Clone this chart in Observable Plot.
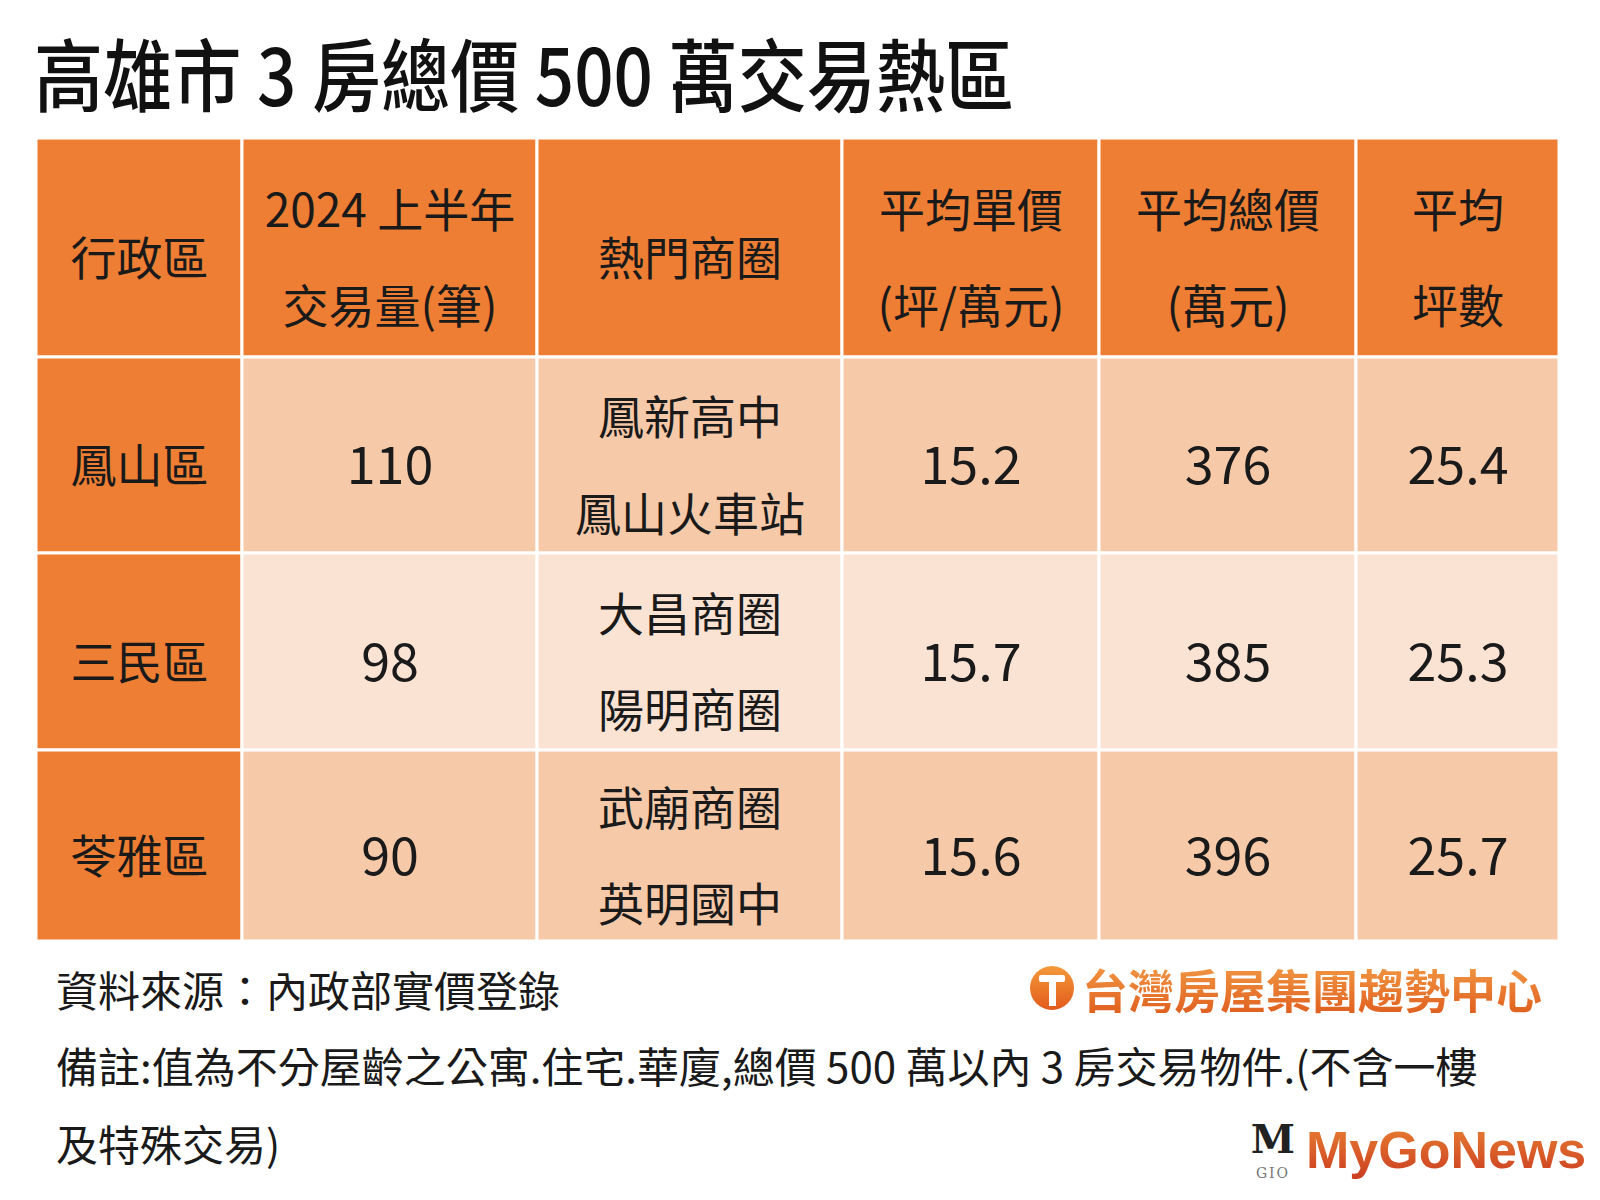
<!DOCTYPE html>
<html>
<head>
<meta charset="utf-8">
<script src="https://cdn.jsdelivr.net/npm/d3@7"></script>
<script src="https://cdn.jsdelivr.net/npm/@observablehq/plot@0.6"></script>
<style>
  html, body { margin: 0; padding: 0; background: #ffffff; }
  body { width: 1600px; height: 1200px; position: relative; overflow: hidden;
         font-family: "Noto Sans CJK TC", "Noto Sans", sans-serif; color: #1a1a1a; }
  #title { height: 138px; box-sizing: border-box; padding-top: 32px; padding-left: 34px; white-space: nowrap; }
  #title span { display: inline-block; transform: scaleX(0.875); transform-origin: left center;
                font-size: 79px; line-height: 79px; font-weight: 500; color: #111; }
  #chart svg { display: block; }
  .foot { position: absolute; left: 56px; font-size: 42px; line-height: 42px; white-space: nowrap; color: #1a1a1a; }
  #brand { position: absolute; left: 1030px; top: 962px; height: 52px; display: flex; align-items: center; white-space: nowrap; }
  #brand .ico { width: 44px; height: 44px; border-radius: 50%; background: linear-gradient(#f39a3a, #e25a1c);
                position: relative; margin-right: 8px; }
  #brand .ico::before { content: ""; position: absolute; left: 9px; top: 9px; width: 26px; height: 7px; background: #fff; border-radius: 2px; }
  #brand .ico::after { content: ""; position: absolute; left: 19px; top: 14px; width: 7px; height: 26px; background: #fff; }
  #brand .txt { font-size: 46px; font-weight: 700; line-height: 52px; color: #ee7a25;
                background: linear-gradient(#f29a45, #e0601f); -webkit-background-clip: text; background-clip: text; -webkit-text-fill-color: transparent; }
  #mgn { position: absolute; left: 1250px; top: 1112px; height: 76px; display: flex; align-items: center; white-space: nowrap; }
  #mgn .m { width: 46px; height: 70px; position: relative; margin-right: 10px; font-family: "DejaVu Serif", serif; }
  #mgn .m .big { position: absolute; left: 0; top: 2px; width: 46px; text-align: center; font-size: 40px; line-height: 44px; font-weight: 700; color: #222; }
  #mgn .m .small { position: absolute; left: 0; top: 50px; width: 46px; text-align: center; font-size: 14px; line-height: 16px; color: #777; letter-spacing: 2px; }
  #mgn .txt { font-family: "Liberation Sans", Arial, sans-serif; font-size: 52px; font-weight: 700; line-height: 70px;
              background: linear-gradient(#ec8a34, #c8351f); -webkit-background-clip: text; background-clip: text; -webkit-text-fill-color: transparent; }
</style>
</head>
<body>
<div id="title"><span>高雄市 3 房總價 500 萬交易熱區</span></div>
<div id="chart"></div>
<div class="foot" style="top:968px">資料來源：內政部實價登錄</div>
<div class="foot" style="top:1044px">備註:值為不分屋齡之公寓.住宅.華廈,總價 500 萬以內 3 房交易物件.(不含一樓</div>
<div class="foot" style="top:1122px">及特殊交易)</div>
<div id="brand"><span class="ico"></span><span class="txt">台灣房屋集團趨勢中心</span></div>
<div id="mgn"><span class="m"><span class="big">M</span><span class="small">GIO</span></span><span class="txt">MyGoNews</span></div>
<script>
// ---- data ----
const headers = ["行政區", "2024 上半年\n交易量(筆)", "熱門商圈", "平均單價\n(坪/萬元)", "平均總價\n(萬元)", "平均\n坪數"];
const districts = ["鳳山區", "三民區", "苓雅區"];
const volumes = [110, 98, 90];
const hotspots = ["鳳新高中\n鳳山火車站", "大昌商圈\n陽明商圈", "武廟商圈\n英明國中"];
const unitPrices = [15.2, 15.7, 15.6];
const totalPrices = [376, 385, 396];
const avgPing = [25.4, 25.3, 25.7];

// ---- layout (relative column widths / row heights) ----
const colWidths = [206, 295, 305, 257, 257, 203];
const rowHeights = [219, 196, 197, 191];

const colEdges = [0, ...d3.cumsum(colWidths)];
const rowEdges = [0, ...d3.cumsum(rowHeights)];
const f1 = d3.format(".1f");

const rowsText = districts.map((d, i) => [
  d, String(volumes[i]), hotspots[i], f1(unitPrices[i]), String(totalPrices[i]), f1(avgPing[i])
]);
const allRows = [headers, ...rowsText];

const cells = [];
allRows.forEach((row, r) => row.forEach((t, c) => {
  let fill;
  if (r === 0 || c === 0) fill = "#ee7e33";
  else fill = (r % 2 === 1) ? "#f6c9a9" : "#fbe3d4";
  const isNum = r > 0 && c > 0 && c !== 2;
  cells.push({
    r, c, text: t, fill, isNum, multi: t.includes("\n"),
    x1: colEdges[c], x2: colEdges[c + 1],
    y1: rowEdges[r], y2: rowEdges[r + 1],
    xm: (colEdges[c] + colEdges[c + 1]) / 2,
    ym: (rowEdges[r] + rowEdges[r + 1]) / 2
  });
}));

const plot = Plot.plot({
  width: 1600,
  height: 803,
  marginLeft: 36,
  marginRight: 41,
  marginTop: 0,
  marginBottom: 0,
  x: { domain: [0, colEdges[colEdges.length - 1]], axis: null },
  y: { domain: [0, rowEdges[rowEdges.length - 1]], reverse: true, axis: null },
  style: { fontFamily: "'Noto Sans CJK TC', 'Noto Sans', sans-serif", background: "#ffffff" },
  marks: [
    Plot.rect(cells, { x1: "x1", x2: "x2", y1: "y1", y2: "y2", fill: "fill", stroke: "#ffffff", strokeWidth: 3 }),
    Plot.text(cells.filter(d => !d.isNum && !d.multi), {
      x: "xm", y: "ym", text: "text", fontSize: 46, fill: "#1a1a1a", dy: 12
    }),
    Plot.text(cells.filter(d => d.multi), {
      x: "xm", y: "ym", text: "text", fontSize: 46, lineHeight: 2.1, fill: "#1a1a1a", dy: -4
    }),
    Plot.text(cells.filter(d => d.isNum), {
      x: "xm", y: "ym", text: "text", fontSize: 52, fill: "#1a1a1a", dy: 12
    })
  ]
});
document.getElementById("chart").appendChild(plot);
</script>
</body>
</html>
